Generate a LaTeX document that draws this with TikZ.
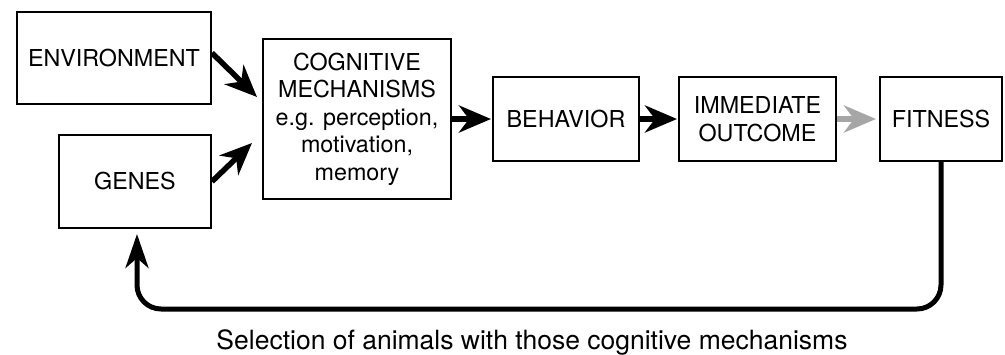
\documentclass[tikz,border=0pt]{standalone}
\usepackage{fontspec}
\setmainfont{TeX Gyre Heros}
\usetikzlibrary{arrows.meta}

\begin{document}
\begin{tikzpicture}[%show background rectangle,
        x=1pt, y=-1pt,
        font=\fontsize{23.3}{27.5}\selectfont,
        kasten/.style={draw, line width=2pt, align=center, inner sep=0pt},
        pfeil/.style={line width=5.5pt,
            -{Stealth[length=32pt,width=27pt,inset=10pt]}},
        >=Stealth % Voreinstellung für Pfeilspitzen
        ]
            \useasboundingbox (0,0) rectangle (1005,354);

            % Kästen
            \node [kasten, minimum width=194pt, minimum height=92pt]
                (env) at (114,58) {ENVIRONMENT};
            \node [kasten, minimum width=152pt, minimum height=93pt]
                (genes) at (135,181.5) {GENES};
            \node [kasten, minimum width=188pt, minimum height=160pt]
                (cog) at (357,119) {COGNITIVE\\MECHANISMS\\e.g. perception,\\motivation,\\memory};
            \node [kasten, minimum width=146pt, minimum height=84pt]
                (beh) at (566,119) {BEHAVIOR};
            \node [kasten, minimum width=157pt, minimum height=84pt]
                (outc) at (757.5,119) {IMMEDIATE\\OUTCOME};
            \node [kasten, minimum width=122pt, minimum height=84pt]
                (fit) at (941,119) {FITNESS};

            % Pfeile
            \draw [pfeil]   ([yshift=5pt]env.east) -- ([xshift=-5pt,yshift=22pt]cog.west);
            \draw [pfeil]   (genes.east) -- ([xshift=-10pt,yshift=-24pt]cog.west);
            \draw [pfeil, shorten >=1pt]    (cog.east) -- (beh.west);
            \draw [pfeil, shorten >=1pt]    (beh.east) -- (outc.west);
            \draw [pfeil, black!35, shorten >=3pt]  (outc.east) -- (fit.west);

            % Rückkopplung
            \coordinate (unten) at (0,309);
            \draw [pfeil, line width=5pt, rounded corners=24pt, shorten >=5pt,
                    -{Stealth[length=34pt,width=23pt,inset=10pt]}]
                    (fit.south) |- ([xshift=2pt]unten -| genes.south)
                    -- ([xshift=2pt]genes.south);

            \node [anchor=base, font=\fontsize{26.5}{30}\selectfont]
                (sel) at (532,349) {Selection of animals with those cognitive mechanisms};

        \end{tikzpicture}
\end{document}
